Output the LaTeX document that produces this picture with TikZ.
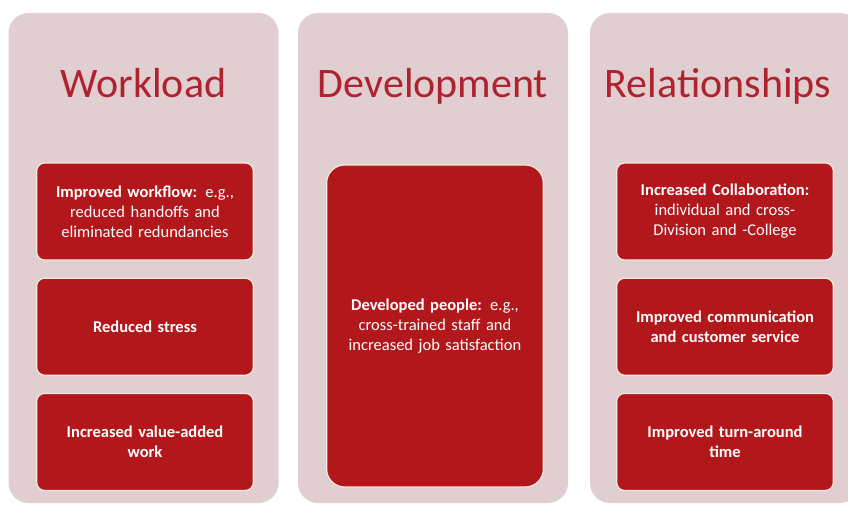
\documentclass[tikz,border=0pt]{standalone}
\usepackage{fontspec}
\setmainfont{Carlito}
\usepackage{xcolor}
\usetikzlibrary{positioning}

\definecolor{panelpink}{HTML}{E0CED1}
\definecolor{boxred}{HTML}{B2171C}
\definecolor{titlered}{HTML}{B0222E}
\definecolor{rimcream}{HTML}{F6E9E0}

\begin{document}
\begin{tikzpicture}[
        x = 1pt, y = 1pt,
        panel/.style = {fill=panelpink, rounded corners=20pt, inner sep=0pt,
            minimum width=270pt, minimum height=490pt},
        heading/.style = {anchor=base, text=titlered, font=\fontsize{42}{46}\selectfont},
    ]
    \tikzstyle{item} = [fill=boxred, draw=rimcream, line width=1.2pt, rounded corners=8pt,
        minimum width=214pt, minimum height=97pt, text width=210pt, align=center,
        text=white, font=\fontsize{16.5}{20}\selectfont];
    \useasboundingbox (0,0) rectangle (848,507);
    \clip (0,0) rectangle (848,507);

    % background columns
    \node [panel] (pwork) at (143.5,249) {};
    \node [panel] (pdev) at (433,249) {};
    \node [panel] (prel) at (725,249) {};

    \node [heading] (twork) at (143.5,409) {Workload};
    \node [heading] (tdev) at (433,409) {Development};
    \node [heading] (trel) at (718,409) {Relationships};

    % workload
    \node [item] (w1) at (145,295.5) {\textbf{Improved workflow:} e.g.,\\ reduced handoffs and\\ eliminated redundancies};
    \node [item, below = 17pt of w1] (w2) {\textbf{Reduced stress}};
    \node [item, below = 17pt of w2] (w3) {\textbf{Increased value-added}\\ \textbf{work}};

    % development
    \node [item, rounded corners=18pt, minimum height=322pt] (d1) at (435,181)
        {\textbf{Developed people:} e.g.,\\ cross-trained staff and\\ increased job satisfaction};

    % relationships
    \node [item] (r1) at (725,295.5) {\textbf{Increased Collaboration:}\\ individual and cross-\\ Division and -College};
    \node [item, below = 17pt of r1] (r2) {\textbf{Improved communication}\\ \textbf{and customer service}};
    \node [item, below = 17pt of r2] (r3) {\textbf{Improved turn-around}\\ \textbf{time}};
\end{tikzpicture}
\end{document}
